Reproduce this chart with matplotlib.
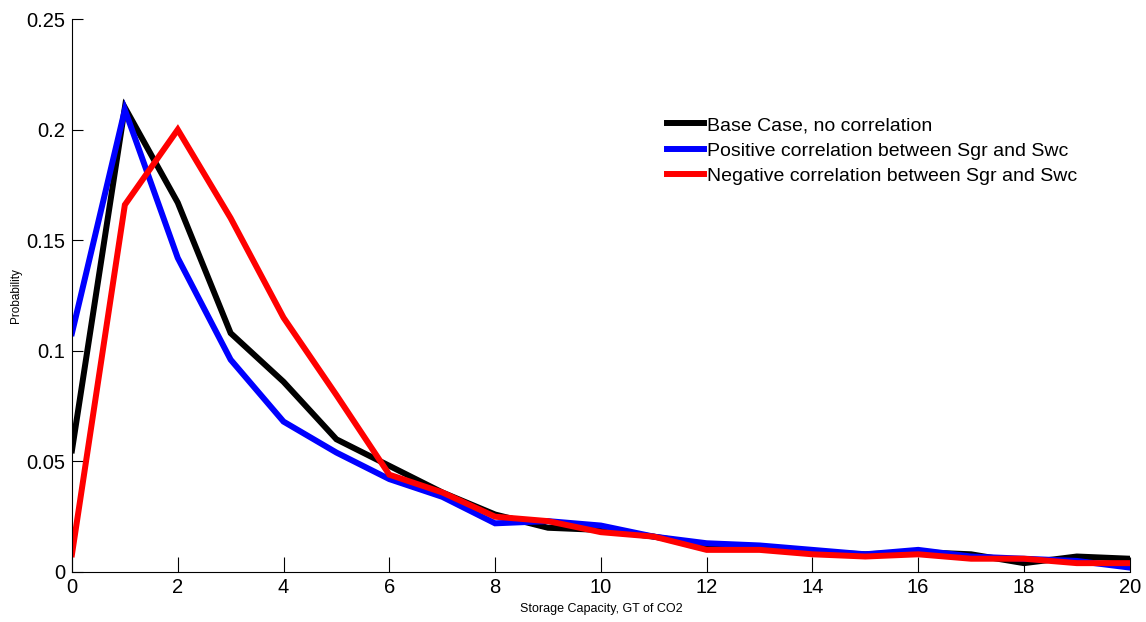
import matplotlib

matplotlib.use("Agg")
import matplotlib.pyplot as plt  # noqa: E402

capacity = list(range(0, 21))
base_case = [0.055, 0.210, 0.167, 0.108, 0.086, 0.060, 0.048, 0.036, 0.026, 0.020,
             0.019, 0.016, 0.012, 0.011, 0.009, 0.008, 0.009, 0.008, 0.004, 0.007, 0.006]
positive = [0.108, 0.209, 0.142, 0.096, 0.068, 0.054, 0.042, 0.034, 0.022, 0.023,
            0.021, 0.016, 0.013, 0.012, 0.010, 0.008, 0.010, 0.007, 0.006, 0.005, 0.002]
negative = [0.008, 0.166, 0.200, 0.160, 0.115, 0.080, 0.044, 0.036, 0.025, 0.023,
            0.018, 0.016, 0.010, 0.010, 0.008, 0.007, 0.008, 0.006, 0.006, 0.004, 0.004]
labels = ["Base Case, no correlation",
          "Positive correlation between Sgr and Swc",
          "Negative correlation between Sgr and Swc"]

plt.rcParams["font.family"] = ["Liberation Sans", "DejaVu Sans"]

fig = plt.figure(figsize=(11.46, 6.22), dpi=100)
ax = fig.add_axes([0.0628, 0.0804, 0.923, 0.889])

for ys, c, lab in zip([base_case, positive, negative], ["black", "#0000ff", "#ff0000"], labels):
    ax.plot(capacity, ys, color=c, lw=4.3, label=lab, solid_joinstyle="miter")

ax.set_xlim(0, 20)
ax.set_ylim(0, 0.25)
ax.set_xticks(range(0, 21, 2))
ax.set_yticks([0, 0.05, 0.1, 0.15, 0.2, 0.25])
ax.set_yticklabels(["0", "0.05", "0.1", "0.15", "0.2", "0.25"])
ax.spines["top"].set_visible(False)
ax.spines["right"].set_visible(False)
ax.tick_params(axis="x", direction="in", length=11, labelsize=14.5, pad=4)
ax.tick_params(axis="y", direction="in", length=8, labelsize=14.5, pad=5)
ax.set_xlabel("Storage Capacity, GT of CO2", fontsize=9, labelpad=5)
# y label sits right at the figure edge in the original
fig.text(0.014, 0.525, "Probability", rotation=90, fontsize=8.5, ha="center", va="center")

ax.legend(loc="upper left", bbox_to_anchor=(0.575, 0.825), bbox_transform=fig.transFigure,
          frameon=False, fontsize=14, handlelength=1.9, handletextpad=0.15,
          labelspacing=0.4, borderaxespad=0)

fig.savefig("out.png", dpi=100)
